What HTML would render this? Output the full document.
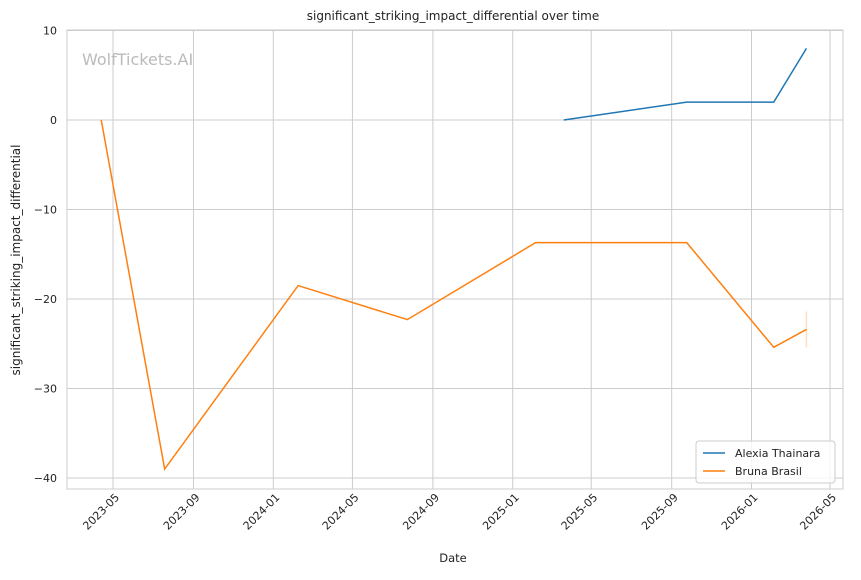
<!DOCTYPE html>
<html><head><meta charset="utf-8"><style>
body{margin:0;background:#fff;font-family:"Liberation Sans","DejaVu Sans",sans-serif;}
svg text{font-family:"DejaVu Sans","Liberation Sans",sans-serif;}
</style></head><body>
<svg id="chart" width="861" height="575" xmlns="http://www.w3.org/2000/svg">
<rect width="861" height="575" fill="#fff"/>
<g id="grid"></g><g id="axes"></g><g id="series"></g>
<text x="82" y="65" font-size="16" fill="#bbbbbb">WolfTickets.AI</text>
<text x="453" y="20" font-size="12" text-anchor="middle" fill="#222">significant_striking_impact_differential over time</text>
<text x="453" y="562" font-size="11.5" text-anchor="middle" fill="#222">Date</text>
<text transform="translate(20,260) rotate(-90)" font-size="12" text-anchor="middle" fill="#222">significant_striking_impact_differential</text>
<g>
<rect x="696" y="441" width="139" height="42" rx="3" fill="#fff" stroke="#ccc" fill-opacity="0.8"/>
<line x1="703" y1="453" x2="725" y2="453" stroke="#1f77b4" stroke-width="1.5"/>
<text x="735" y="457" font-size="11" fill="#222">Alexia Thainara</text>
<line x1="703" y1="471" x2="725" y2="471" stroke="#ff7f0e" stroke-width="1.5"/>
<text x="735" y="475" font-size="11" fill="#222">Bruna Brasil</text>
</g>
</svg>
<script>
const xTickLabels=["2023-05","2023-09","2024-01","2024-05","2024-09","2025-01","2025-05","2025-09","2026-01","2026-05"];
const yTicks=[10,0,-10,-20,-30,-40];
const alexiaDates=["2025-03-20","2025-09-24","2026-02-04","2026-03-26"];
const alexiaValues=[0,2,2,8];
const brunaDates=["2023-04-13","2023-07-19","2024-02-08","2024-07-24","2025-02-05","2025-09-24","2026-02-04","2026-03-26"];
const brunaValues=[0,-39,-18.5,-22.3,-13.7,-13.7,-25.4,-23.4];
const NS="http://www.w3.org/2000/svg";
const L=67,R=843,T=30,B=489;
const d0=Date.parse("2023-05-01"),d1=Date.parse("2026-05-01");
function xs(d){return 113+(Date.parse(d)-d0)/(d1-d0)*(830-113);}
function ys(v){return 120-v*8.95;}
function mk(tag,attrs,parent){const e=document.createElementNS(NS,tag);for(const k in attrs)e.setAttribute(k,attrs[k]);parent.appendChild(e);return e;}
const grid=document.getElementById('grid'),axes=document.getElementById('axes'),ser=document.getElementById('series');
mk('rect',{x:L,y:T,width:R-L,height:B-T,fill:'none',stroke:'#ccc'},grid);
xTickLabels.forEach(t=>{const x=xs(t+"-01");
const g=mk('line',{x1:x,y1:T,x2:x,y2:B,stroke:'#ccc'},grid);


const tx=mk('text',{x:0,y:0,'font-size':11,fill:'#222','text-anchor':'end',transform:`translate(${x+7},${B+9}) rotate(-45)`},axes);
tx.textContent=t;

});
yTicks.forEach(v=>{const y=ys(v);
const g=mk('line',{x1:L,y1:y,x2:R,y2:y,stroke:'#ccc'},grid);


const tx=mk('text',{x:L-10,y:y+4,'font-size':11,fill:'#222','text-anchor':'end'},axes);
tx.textContent=v<0?"\u2212"+(-v):String(v);

});
function line(dates,vals,color,name){
const p=mk('polyline',{points:dates.map((d,i)=>xs(d)+","+ys(vals[i])).join(" "),fill:'none',stroke:color,'stroke-width':1.5},ser);

}
line(alexiaDates,alexiaValues,'#1f77b4','alexia-thainara-line');
line(brunaDates,brunaValues,'#ff7f0e','bruna-brasil-line');
const lx=xs(brunaDates[brunaDates.length-1]),lv=brunaValues[brunaValues.length-1];
const band=mk('line',{x1:lx,y1:ys(lv+2),x2:lx,y2:ys(lv-2),stroke:'#ff7f0e','stroke-opacity':0.25,'stroke-width':1.5},ser);


</script>
</body></html>
